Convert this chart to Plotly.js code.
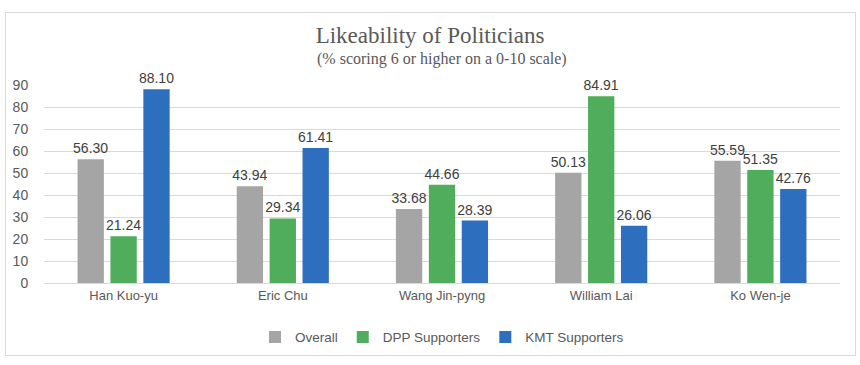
<!DOCTYPE html>
<html>
<head>
<meta charset="utf-8">
<script src="https://cdn.plot.ly/plotly-3.0.1.min.js"></script>
<style>
html,body{margin:0;padding:0;background:#fff;}
#wrap{position:absolute;left:5px;top:12px;width:849px;height:342px;border:1px solid #d9d9d9;}
#chart{position:absolute;left:-6px;top:-13px;width:860px;height:365px;}
</style>
</head>
<body>
<div id="wrap"><div id="chart"></div></div>
<script>
const categories = ["Han Kuo-yu", "Eric Chu", "Wang Jin-pyng", "William Lai", "Ko Wen-je"];
const overall = [56.30, 43.94, 33.68, 50.13, 55.59];
const dpp = [21.24, 29.34, 44.66, 84.91, 51.35];
const kmt = [88.10, 61.41, 28.39, 26.06, 42.76];
const seriesNames = ["Overall", "DPP Supporters", "KMT Supporters"];
const yTicks = [0, 10, 20, 30, 40, 50, 60, 70, 80, 90];
const titleText = "Likeability of Politicians";
const subtitleText = "(% scoring 6 or higher on a 0-10 scale)";

const colors = ["#a5a5a5", "#4fad5b", "#2e6ebf"];
const data = [overall, dpp, kmt].map((vals, i) => ({
  type: "bar",
  name: seriesNames[i],
  x: categories,
  y: vals,
  marker: {color: colors[i]},
  texttemplate: "%{y:.2f}",
  textposition: "outside",
  constraintext: "none",
  textfont: {family: "Liberation Sans, Arial, sans-serif", size: 14, color: "#404040"},
  cliponaxis: false,
  hoverinfo: "none"
}));

const plotTop = 85, plotH = 198;
const layout = {
  width: 860, height: 365,
  paper_bgcolor: "rgba(0,0,0,0)", plot_bgcolor: "rgba(0,0,0,0)",
  margin: {l: 44, r: 20, t: plotTop, b: 365 - plotTop - plotH, autoexpand: false},
  barmode: "group",
  bargap: 0.38,
  bargroupgap: 0.2,
  font: {family: "Liberation Sans, Arial, sans-serif", color: "#595959", size: 13},
  title: {
    text: titleText,
    font: {family: "Liberation Serif, Times New Roman, serif", size: 23, color: "#595959"},
    x: 0.5, xanchor: "center", y: 1 - 35/365, yref: "container", yanchor: "middle"
  },
  annotations: [{
    text: subtitleText, xref: "paper", yref: "paper", x: 0.5, y: 1 + (plotTop - 59) / plotH,
    xanchor: "center", yanchor: "middle", showarrow: false,
    font: {family: "Liberation Serif, Times New Roman, serif", size: 16, color: "#595959"}
  }],
  xaxis: {
    type: "category",
    showgrid: false,
    showline: true, linecolor: "#d9d9d9", linewidth: 1,
    ticks: "", tickfont: {size: 13, color: "#595959"},
    fixedrange: true
  },
  yaxis: {
    range: [0, 90],
    tickvals: yTicks,
    showgrid: true, gridcolor: "#d9d9d9", gridwidth: 1,
    zeroline: false, showline: false,
    ticks: "outside", ticklen: 12, tickcolor: "rgba(0,0,0,0)",
    tickfont: {size: 14, color: "#595959"},
    fixedrange: true
  },
  legend: {
    orientation: "h", x: 0.5, xanchor: "center", y: -0.195, yanchor: "top",
    font: {size: 13.5, color: "#595959"},
    itemwidth: 30, traceorder: "normal"
  },
  showlegend: true
};

Plotly.newPlot("chart", data, layout, {displayModeBar: false, staticPlot: true});
</script>
</body>
</html>
